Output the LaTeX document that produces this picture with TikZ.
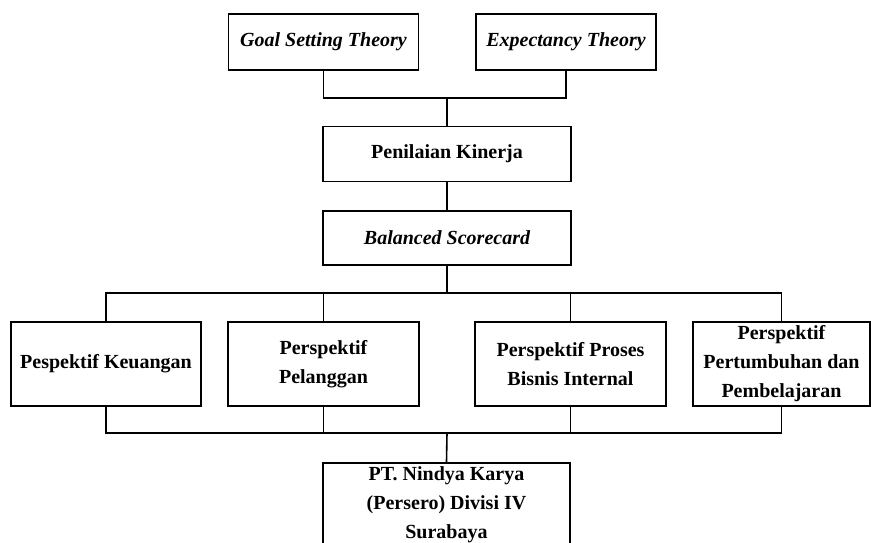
\documentclass[tikz,border=0pt]{standalone}
\usepackage{fontspec}
\setmainfont{Liberation Serif}
\usetikzlibrary{positioning,calc}

\begin{document}
\begin{tikzpicture}[
    x=1pt, y=-1pt,
    font=\fontsize{20}{29}\selectfont\bfseries,
    box/.style={
        rectangle, draw=black, line width=1.6pt, fill=white,
        inner sep=2pt, align=center
    },
    topbox/.style={box, minimum width=190pt, minimum height=56pt},
    midbox/.style={box, minimum width=248pt, minimum height=55pt},
    perbox/.style={box, minimum width=190pt, minimum height=84pt},
    link/.style={draw=black, line width=1.1pt},
    trunk/.style={draw=black, line width=1.6pt}
]
    \useasboundingbox (0,0) rectangle (871,543);
    \clip (0,0) rectangle (871,543);

    % Theories
    \node [topbox] (goal) at (323.5,42) {\itshape Goal Setting Theory};
    \node [topbox, minimum width=180pt] (expect) at (566,42) {\itshape Expectancy Theory};

    % Middle chain
    \node [midbox] (nilai) at (447,154) {Penilaian Kinerja};
    \node [midbox, minimum height=54pt] (bsc) at (447,238) {\itshape Balanced Scorecard};

    % Four perspectives
    \node [perbox] (keu) at (106,364) {Pespektif Keuangan};
    \node [perbox, minimum width=191pt] (pel) at (323.5,364) {Perspektif\\Pelanggan};
    \node [perbox, minimum width=191pt] (proses) at (570.5,364) {Perspektif Proses\\Bisnis Internal};
    \node [perbox, minimum width=177pt] (tumbuh) at (781.5,364) {Perspektif\\Pertumbuhan dan\\Pembelajaran};

    % Object of study (runs past the lower edge)
    \node [box, minimum width=247pt, inner ysep=4pt, anchor=north] (pt) at (446.5,462)
        {PT. Nindya Karya\\(Persero) Divisi IV\\Surabaya\rule[-40pt]{0pt}{0pt}};

    % Theories -> Penilaian Kinerja
    \coordinate (topjoin) at (447,98);
    \draw [link] (goal.south) |- (topjoin) -| (expect.south);
    \draw [trunk] (topjoin) -- (nilai.north);
    \draw [trunk] (nilai.south) -- (bsc.north);

    % Balanced Scorecard -> perspectives
    \coordinate (split) at (447,293);
    \draw [trunk] (bsc.south) -- (split);
    \draw [link] (keu.north) |- (split) -| (tumbuh.north);
    \draw [link] (pel.north) -- (pel.north |- split);
    \draw [link] (proses.north) -- (proses.north |- split);

    % Perspectives -> company
    \coordinate (merge) at (447,433);
    \draw [link] (keu.south) |- (merge) -| (tumbuh.south);
    \draw [link] (pel.south) -- (pel.south |- merge);
    \draw [link] (proses.south) -- (proses.south |- merge);
    \draw [trunk] (merge) -- (pt.north);

\end{tikzpicture}
\end{document}
